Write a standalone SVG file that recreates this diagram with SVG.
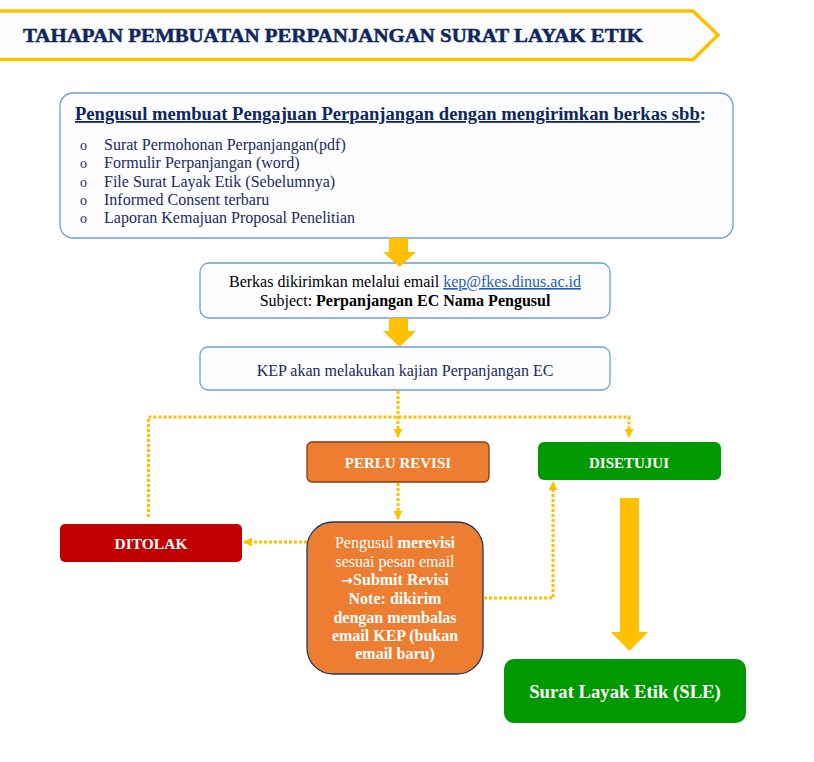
<svg xmlns="http://www.w3.org/2000/svg" width="814" height="762" viewBox="0 0 814 762">
<style>
.serif{font-family:"Liberation Serif","Times New Roman",serif}
.box{fill:#fdfdff;stroke:#6a9fd8;stroke-width:1.3}
.dot{fill:none;stroke:#ffc000;stroke-width:3;stroke-dasharray:3 2}
.big{fill:#ffc000}
.wt{fill:#ffffff;font-weight:bold;text-anchor:middle}
.navy{fill:#1a2a5e}
</style>
<defs>
<marker id="ah" viewBox="0 0 10 10" refX="9" refY="5" markerWidth="3" markerHeight="3" orient="auto" markerUnits="strokeWidth">
<path d="M0,0 L10,5 L0,10 z" fill="#ffc000"/>
</marker>
</defs>
<rect width="814" height="762" fill="#ffffff"/>

<g id="header">
<polygon points="-5,11 693,11 718,35 693,59.5 -5,59.5" fill="#fdfdfd" stroke="#ffc000" stroke-width="3.5"/>
<text x="23" y="42" class="serif" font-size="19" font-weight="bold" fill="#0f2660" stroke="#0f2660" stroke-width="0.5" textLength="620" lengthAdjust="spacingAndGlyphs">TAHAPAN PEMBUATAN PERPANJANGAN SURAT LAYAK ETIK</text>
</g>

<g id="node-pengajuan">
<rect x="60" y="93" width="673" height="145" rx="13" class="box"/>
<text x="75" y="120" class="serif" font-size="18" font-weight="bold" fill="#0f2660" textLength="631" lengthAdjust="spacingAndGlyphs"><tspan text-decoration="underline">Pengusul membuat Pengajuan Perpanjangan dengan mengirimkan berkas sbb</tspan>:</text>
<g class="serif navy" font-size="16">
<text x="80" y="150" font-size="14">o</text>
<text x="104" y="150">Surat Permohonan Perpanjangan(pdf)</text>
<text x="80" y="168" font-size="14">o</text>
<text x="104" y="168">Formulir Perpanjangan (word)</text>
<text x="80" y="187" font-size="14">o</text>
<text x="104" y="187">File Surat Layak Etik (Sebelumnya)</text>
<text x="80" y="205" font-size="14">o</text>
<text x="104" y="205">Informed Consent terbaru</text>
<text x="80" y="223" font-size="14">o</text>
<text x="104" y="223">Laporan Kemajuan Proposal Penelitian</text>
</g>
</g>

<g id="node-email">
<rect x="200" y="263" width="410" height="55" rx="9" class="box"/>
<text x="405" y="287" class="serif" font-size="16" text-anchor="middle" fill="#000000">Berkas dikirimkan melalui email <tspan fill="#1f5fc0" text-decoration="underline">kep@fkes.dinus.ac.id</tspan></text>
<text x="405" y="306" class="serif" font-size="16" text-anchor="middle" fill="#000000">Subject: <tspan font-weight="bold">Perpanjangan EC Nama Pengusul</tspan></text>
</g>

<g id="node-kajian">
<rect x="200" y="347" width="410" height="43" rx="8" class="box"/>
<text x="405" y="376" class="serif navy" font-size="16" text-anchor="middle">KEP akan melakukan kajian Perpanjangan EC</text>
</g>

<g id="node-revisi">
<rect x="307" y="442" width="182" height="40" rx="5" fill="#ed7d31" stroke="#843c0c" stroke-width="1.3"/>
<text x="398" y="468" class="serif wt" font-size="15">PERLU REVISI</text>
</g>

<g id="node-disetujui">
<rect x="538" y="442" width="183" height="38" rx="6" fill="#009900"/>
<text x="629" y="468" class="serif wt" font-size="15">DISETUJUI</text>
</g>

<g id="node-ditolak">
<rect x="60" y="524" width="182" height="38" rx="5" fill="#c00000"/>
<text x="151" y="549" class="serif wt" font-size="15.5">DITOLAK</text>
</g>

<g id="node-merevisi">
<rect x="307" y="522" width="176" height="152" rx="26" fill="#ed7d31" stroke="#203864" stroke-width="1.3"/>
<g class="serif" font-size="16" fill="#ffffff" text-anchor="middle">
<text x="395" y="548">Pengusul <tspan font-weight="bold">merevisi</tspan></text>
<text x="395" y="567">sesuai pesan email</text>
<text x="395" y="585" font-weight="bold"><tspan font-family="DejaVu Sans, sans-serif" font-size="14">→</tspan>Submit Revisi</text>
<text x="395" y="604" font-weight="bold">Note: dikirim</text>
<text x="395" y="623" font-weight="bold">dengan membalas</text>
<text x="395" y="641" font-weight="bold">email KEP (bukan</text>
<text x="395" y="659" font-weight="bold">email baru)</text>
</g>
</g>

<g id="node-sle">
<rect x="504" y="659" width="242" height="64" rx="10" fill="#009900"/>
<text x="625" y="698" class="serif wt" font-size="18.7">Surat Layak Etik (SLE)</text>
</g>

<g id="connectors">
<polygon class="big" points="389,238 408,238 408,252 416,252 399.5,267 383,252 389,252"/>
<polygon class="big" points="389,318 408,318 408,331 416,331 399.5,347 383,331 389,331"/>
<path class="dot" d="M398,391 V437" marker-end="url(#ah)"/>
<path class="dot" d="M148.5,517 V417 H629 V437" marker-end="url(#ah)"/>
<path class="dot" d="M398,483 V519" marker-end="url(#ah)"/>
<path class="dot" d="M307,542 H244" marker-end="url(#ah)"/>
<path class="dot" d="M484,598 H553 V482" marker-end="url(#ah)"/>
<polygon class="big" points="620,498 639,498 639,632 648,632 629.5,651 611,632 620,632"/>
</g>
</svg>
